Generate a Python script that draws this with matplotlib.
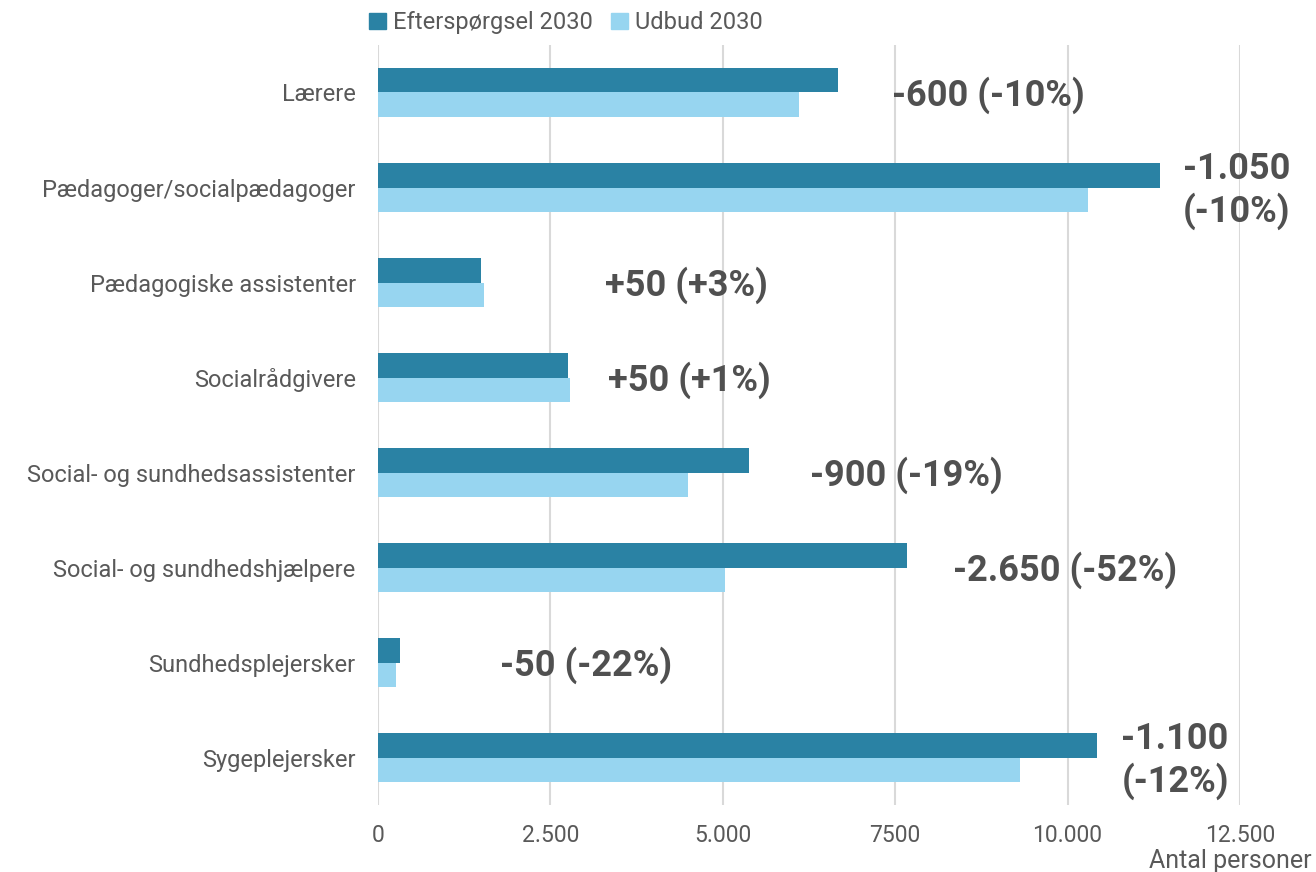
import numpy as np
import matplotlib.pyplot as plt
from matplotlib.patches import Patch

categories = ["Lærere", "Pædagoger/socialpædagoger", "Pædagogiske assistenter",
              "Socialrådgivere", "Social- og sundhedsassistenter",
              "Social- og sundhedshjælpere", "Sundhedsplejersker", "Sygeplejersker"]
demand_2030 = [6670, 11340, 1490, 2750, 5380, 7670, 320, 10430]
supply_2030 = [6100, 10300, 1540, 2780, 4500, 5030, 260, 9310]
gap_labels = ["-600 (-10%)", "-1.050\n(-10%)", "+50 (+3%)", "+50 (+1%)",
              "-900 (-19%)", "-2.650 (-52%)", "-50 (-22%)", "-1.100\n(-12%)"]
xticks = [0, 2500, 5000, 7500, 10000, 12500]
xtick_labels = ["0", "2.500", "5.000", "7500", "10.000", "12.500"]

# where the gap text sits (centre, data units)
label_x = [8850, 12450, 4470, 4520, 7670, 9960, 3020, 11560]

dark = "#2A82A4"
light = "#97D5F0"
txt = "#595959"

plt.rcParams['font.family'] = ['Roboto', 'DejaVu Sans']

fig = plt.figure(figsize=(13.16, 8.72), dpi=100)
ax = fig.add_axes([0.2872, 0.0768, 0.655, 0.8716])

y = np.arange(len(categories))
h = 0.26
ax.barh(y - h/2, demand_2030, height=h, color=dark, zorder=3)
ax.barh(y + h/2, supply_2030, height=h, color=light, zorder=3)

for i in range(len(categories)):
    ax.text(label_x[i], y[i] + 0.03, gap_labels[i], ha="center", va="center",
            fontsize=26, fontweight="bold", color="#505050", clip_on=False,
            linespacing=1.2)

ax.set_ylim(len(categories) - 0.5, -0.5)
ax.set_xlim(0, 12500)
ax.set_yticks(y)
ax.set_yticklabels(categories)
ax.set_xticks(xticks)
ax.set_xticklabels(xtick_labels)
ax.tick_params(axis="y", length=0, pad=16, labelsize=17, labelcolor=txt)
ax.tick_params(axis="x", length=0, pad=14, labelsize=16.5, labelcolor=txt)
ax.grid(axis="x", color="#d9d9d9", lw=1.5, zorder=0)
for s in ax.spines.values():
    s.set_visible(False)

fig.text(0.997, 0.013, "Antal personer", ha="right", va="center", fontsize=18, color=txt)

handles = [Patch(color=dark, label="Efterspørgsel 2030"),
           Patch(color=light, label="Udbud 2030")]
fig.legend(handles=handles, loc="center", bbox_to_anchor=(0.43, 0.974), ncol=2,
           frameon=False, fontsize=17, labelcolor=txt, handlelength=0.7,
           handleheight=0.7, handletextpad=0.3, columnspacing=0.8)

plt.savefig("out.png")
